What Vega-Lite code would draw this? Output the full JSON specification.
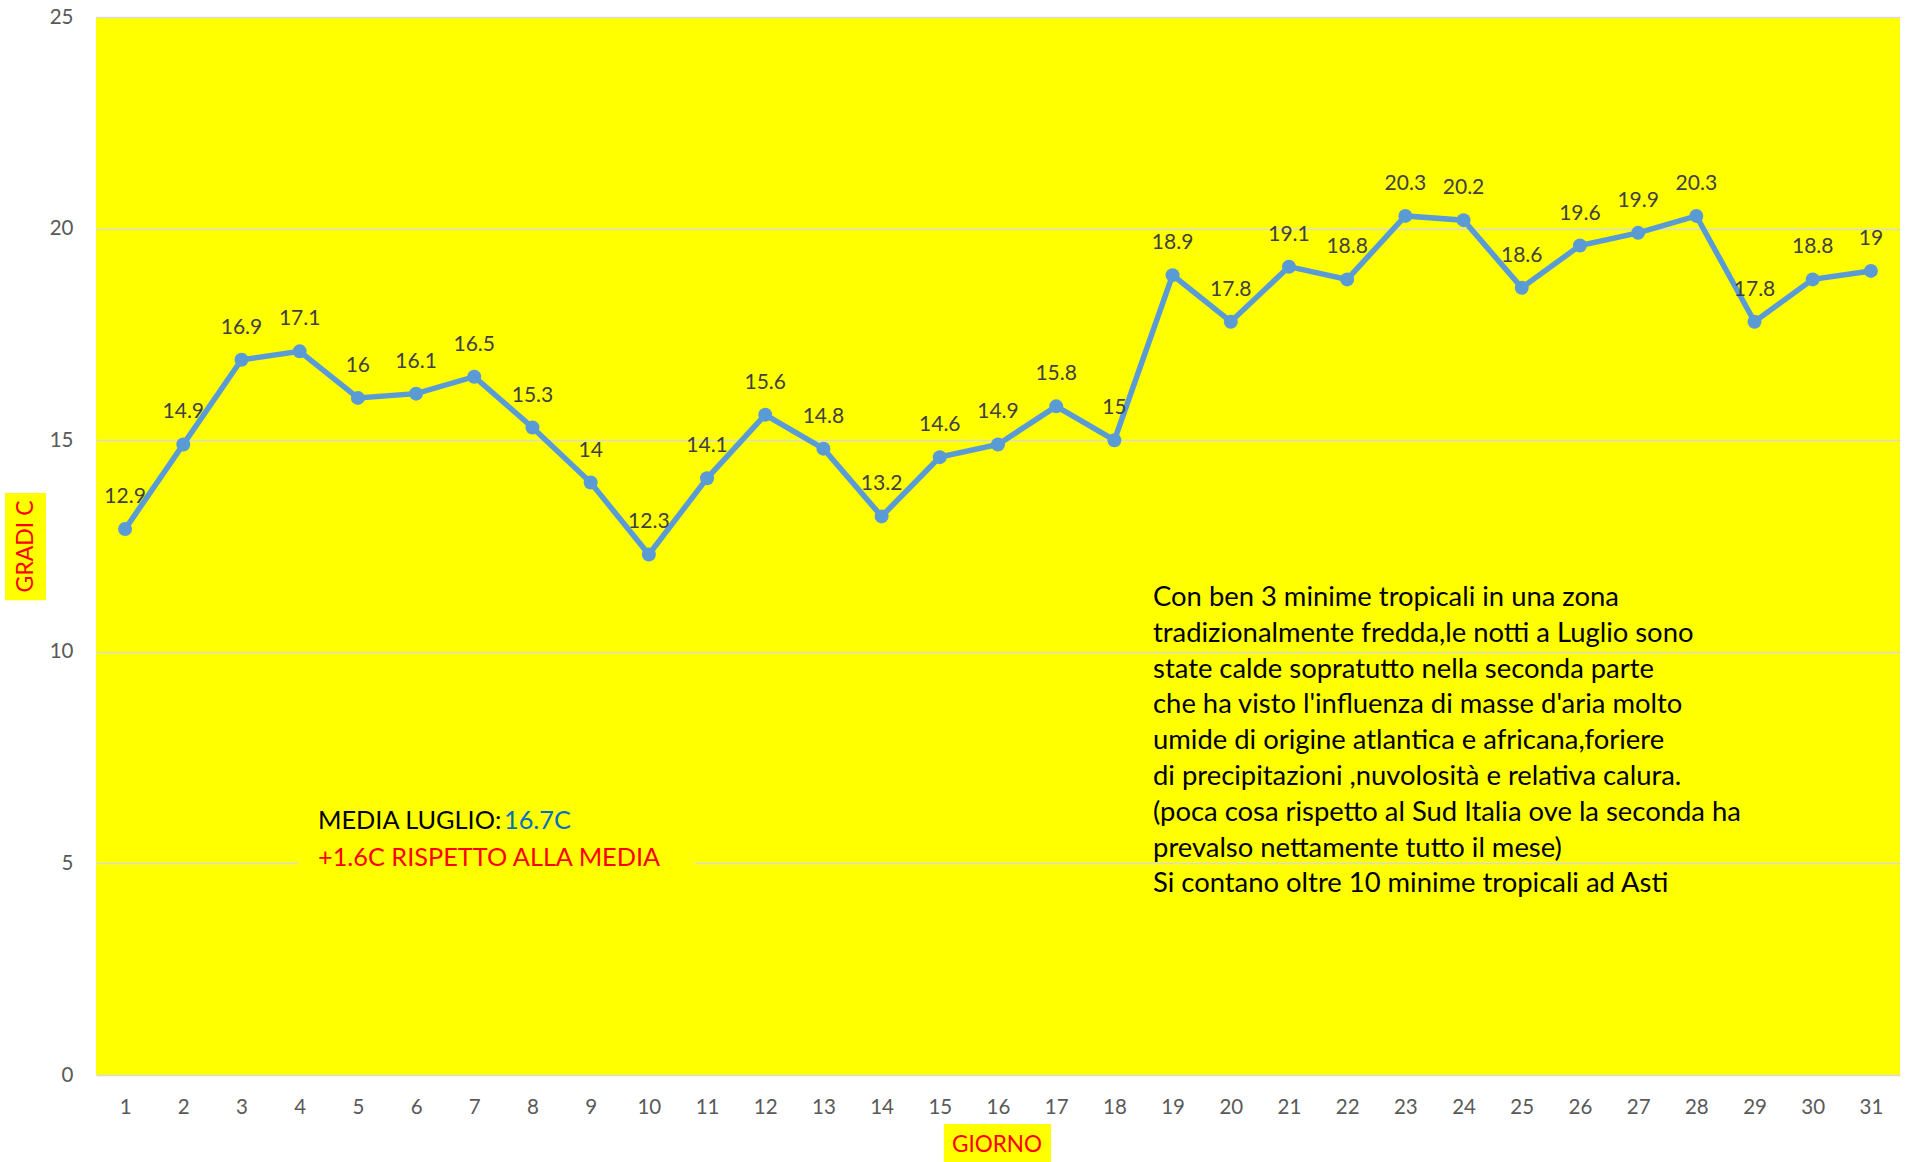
{
  "$schema": "https://vega.github.io/schema/vega-lite/v6.json",
  "width": 1804,
  "height": 1058,
  "autosize": "none",
  "padding": {"left": 96, "top": 17, "right": 5, "bottom": 87},
  "background": "#ffffff",
  "config": {
    "view": {"fill": "#ffff00", "stroke": null},
    "font": "Lato",
    "text": {"font": "Lato"},
    "axisX": {
      "title": null, "grid": false, "domain": false, "ticks": false, "tickSize": 0,
      "labelFontSize": 20.5, "labelColor": "#595959", "labelPadding": 22,
      "labelFlush": false, "labelOverlap": false, "labelFont": "Lato"
    },
    "axisY": {
      "title": null, "grid": true, "gridColor": "#d9d9d9", "gridWidth": 1.6,
      "domain": false, "ticks": false, "tickSize": 0,
      "labelFontSize": 20.5, "labelColor": "#595959", "labelPadding": 23,
      "labelFlush": false, "labelOverlap": false, "labelFont": "Lato"
    }
  },
  "datasets": {
    "temps": [
      {"giorno": 1, "gradi": 12.9}, {"giorno": 2, "gradi": 14.9}, {"giorno": 3, "gradi": 16.9},
      {"giorno": 4, "gradi": 17.1}, {"giorno": 5, "gradi": 16}, {"giorno": 6, "gradi": 16.1},
      {"giorno": 7, "gradi": 16.5}, {"giorno": 8, "gradi": 15.3}, {"giorno": 9, "gradi": 14},
      {"giorno": 10, "gradi": 12.3}, {"giorno": 11, "gradi": 14.1}, {"giorno": 12, "gradi": 15.6},
      {"giorno": 13, "gradi": 14.8}, {"giorno": 14, "gradi": 13.2}, {"giorno": 15, "gradi": 14.6},
      {"giorno": 16, "gradi": 14.9}, {"giorno": 17, "gradi": 15.8}, {"giorno": 18, "gradi": 15},
      {"giorno": 19, "gradi": 18.9}, {"giorno": 20, "gradi": 17.8}, {"giorno": 21, "gradi": 19.1},
      {"giorno": 22, "gradi": 18.8}, {"giorno": 23, "gradi": 20.3}, {"giorno": 24, "gradi": 20.2},
      {"giorno": 25, "gradi": 18.6}, {"giorno": 26, "gradi": 19.6}, {"giorno": 27, "gradi": 19.9},
      {"giorno": 28, "gradi": 20.3}, {"giorno": 29, "gradi": 17.8}, {"giorno": 30, "gradi": 18.8},
      {"giorno": 31, "gradi": 19}
    ],
    "media": [{"a": "MEDIA LUGLIO:", "b": "16.7C", "c": "+1.6C RISPETTO ALLA MEDIA"}],
    "titoli": [{"yt": "GRADI C", "xt": "GIORNO"}],
    "nota": [{"n": "Si contano oltre 10 minime tropicali ad Asti"}]
  },
  "layer": [
    {
      "data": {"name": "temps"},
      "mark": {"type": "line", "color": "#5b9bd5", "strokeWidth": 5.5},
      "encoding": {
        "x": {
          "field": "giorno", "type": "quantitative", "title": null,
          "scale": {"domain": [0.5, 31.5], "nice": false, "zero": false},
          "axis": {"format": "d", "values": [1,2,3,4,5,6,7,8,9,10,11,12,13,14,15,16,17,18,19,20,21,22,23,24,25,26,27,28,29,30,31]}
        },
        "y": {
          "field": "gradi", "type": "quantitative", "title": null,
          "scale": {"domain": [0, 25], "nice": false, "zero": false},
          "axis": {"format": "d", "values": [0, 5, 10, 15, 20, 25]}
        }
      }
    },
    {
      "data": {"name": "temps"},
      "mark": {"type": "point", "filled": true, "opacity": 1, "color": "#5b9bd5", "size": 196},
      "encoding": {
        "x": {"field": "giorno", "type": "quantitative", "title": null},
        "y": {"field": "gradi", "type": "quantitative", "title": null}
      }
    },
    {
      "data": {"name": "temps"},
      "mark": {"type": "text", "dy": -32, "baseline": "middle", "align": "center", "fontSize": 21, "color": "#404040", "font": "Lato"},
      "encoding": {
        "x": {"field": "giorno", "type": "quantitative", "title": null},
        "y": {"field": "gradi", "type": "quantitative", "title": null},
        "text": {"field": "gradi", "type": "quantitative"}
      }
    },
    {
      "data": {"name": "media"},
      "mark": {"type": "rect", "fill": "#ffff00"},
      "encoding": {
        "x": {"datum": 3.971, "type": "quantitative", "title": null},
        "x2": {"datum": 10.793},
        "y": {"datum": 6.73, "type": "quantitative", "title": null},
        "y2": {"datum": 4.25}
      }
    },
    {
      "data": {"name": "media"},
      "mark": {"type": "text", "align": "left", "baseline": "middle", "fontSize": 25.3, "color": "#000000", "font": "Lato"},
      "encoding": {
        "x": {"datum": 4.315, "type": "quantitative", "title": null},
        "y": {"datum": 6.002, "type": "quantitative", "title": null},
        "text": {"field": "a"}
      }
    },
    {
      "data": {"name": "media"},
      "mark": {"type": "text", "align": "left", "baseline": "middle", "fontSize": 25.3, "color": "#0070c0", "font": "Lato"},
      "encoding": {
        "x": {"datum": 7.511, "type": "quantitative", "title": null},
        "y": {"datum": 6.002, "type": "quantitative", "title": null},
        "text": {"field": "b"}
      }
    },
    {
      "data": {"name": "media"},
      "mark": {"type": "text", "align": "left", "baseline": "middle", "fontSize": 25.3, "color": "#ff0000", "font": "Lato"},
      "encoding": {
        "x": {"datum": 4.315, "type": "quantitative", "title": null},
        "y": {"datum": 5.139, "type": "quantitative", "title": null},
        "text": {"field": "c"}
      }
    },
    {
      "data": {"name": "nota"},
      "mark": {
        "type": "text", "align": "left", "baseline": "alphabetic", "fontSize": 27.4, "lineHeight": 35.8, "color": "#000000", "font": "Lato",
        "text": [
          "Con ben 3 minime tropicali in una zona",
          "tradizionalmente fredda,le notti a Luglio sono",
          "state calde sopratutto nella seconda parte",
          "che ha visto l'influenza di masse d'aria molto",
          "umide di origine atlantica e africana,foriere",
          "di precipitazioni ,nuvolosità e relativa calura.",
          "(poca cosa rispetto al Sud Italia ove la seconda ha",
          "prevalso nettamente tutto il mese)",
          "Si contano oltre 10 minime tropicali ad Asti"
        ]
      },
      "encoding": {
        "x": {"datum": 18.664, "type": "quantitative", "title": null},
        "y": {"datum": 11.082, "type": "quantitative", "title": null}
      }
    },
    {
      "data": {"name": "titoli"},
      "mark": {"type": "rect", "fill": "#ffff00"},
      "encoding": {
        "x": {"datum": -1.064, "type": "quantitative", "title": null},
        "x2": {"datum": -0.359},
        "y": {"datum": 13.75, "type": "quantitative", "title": null},
        "y2": {"datum": 11.22}
      }
    },
    {
      "data": {"name": "titoli"},
      "mark": {"type": "text", "align": "center", "baseline": "middle", "angle": 270, "fontSize": 23, "color": "#ff0000", "font": "Lato"},
      "encoding": {
        "x": {"datum": -0.711, "type": "quantitative", "title": null},
        "y": {"datum": 12.49, "type": "quantitative", "title": null},
        "text": {"field": "yt"}
      }
    },
    {
      "data": {"name": "titoli"},
      "mark": {"type": "rect", "fill": "#ffff00"},
      "encoding": {
        "x": {"datum": 15.07, "type": "quantitative", "title": null},
        "x2": {"datum": 16.91},
        "y": {"datum": -1.158, "type": "quantitative", "title": null},
        "y2": {"datum": -2.1}
      }
    },
    {
      "data": {"name": "titoli"},
      "mark": {"type": "text", "align": "center", "baseline": "middle", "fontSize": 22.5, "color": "#ff0000", "font": "Lato"},
      "encoding": {
        "x": {"datum": 15.983, "type": "quantitative", "title": null},
        "y": {"datum": -1.654, "type": "quantitative", "title": null},
        "text": {"field": "xt"}
      }
    }
  ]
}
